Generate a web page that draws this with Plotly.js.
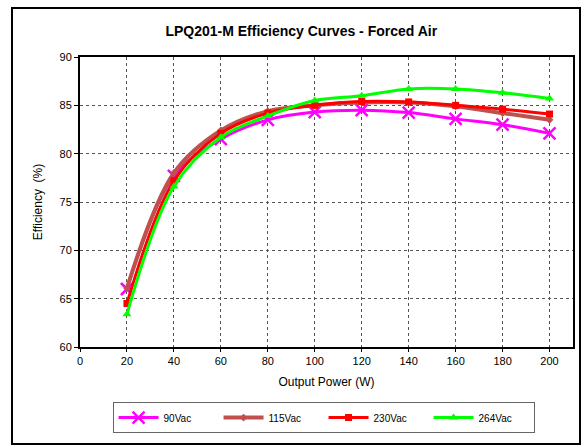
<!DOCTYPE html>
<html><head><meta charset="utf-8">
<script src="https://cdn.plot.ly/plotly-3.0.1.min.js"></script>
<style>
body{margin:0;padding:0;background:#fff;}
#wrap{position:relative;width:585px;height:445px;}
#chart{width:585px;height:445px;}
#frame{position:absolute;left:11px;top:7px;width:566px;height:434px;border:2px solid #000;pointer-events:none;}
</style></head>
<body>
<div id="wrap"><div id="chart"></div><div id="frame"></div></div>
<script>
const power = [20, 40, 60, 80, 100, 120, 140, 160, 180, 200];
const eff90 = [66.0, 77.7, 81.5, 83.5, 84.3, 84.5, 84.25, 83.6, 83.0, 82.1];
const eff115 = [66.1, 78.0, 82.4, 84.4, 85.0, 85.3, 85.3, 84.9, 84.2, 83.5];
const eff230 = [64.5, 77.2, 82.1, 84.2, 85.0, 85.4, 85.35, 85.0, 84.6, 84.1];
const eff264 = [63.4, 76.6, 81.7, 83.9, 85.5, 86.0, 86.7, 86.7, 86.3, 85.7];
const names = ['90Vac', '115Vac', '230Vac', '264Vac'];

const traces = [
  {x: power, y: eff90, name: names[0], line: {color: '#ff00ff', width: 3, shape: 'spline'},
   marker: {symbol: 'x-thin', size: 12, line: {color: '#ff00ff', width: 2.5}, color: '#ff00ff'}},
  {x: power, y: eff115, name: names[1], line: {color: '#c0504d', width: 4, shape: 'spline'},
   marker: {symbol: 'diamond', size: 6, color: '#c0504d'}},
  {x: power, y: eff230, name: names[2], line: {color: '#ff0000', width: 3, shape: 'spline'},
   marker: {symbol: 'square', size: 7, color: '#ff0000'}},
  {x: power, y: eff264, name: names[3], line: {color: '#00ff00', width: 3, shape: 'spline'},
   marker: {symbol: 'triangle-up', size: 8, color: '#00ff00'}}
].map(t => Object.assign({type: 'scatter', mode: 'lines+markers'}, t));

const font = 'Liberation Sans, Arial, sans-serif';
const layout = {
  width: 585, height: 445,
  margin: {l: 80, r: 12, t: 57, b: 98, autoexpand: false},
  paper_bgcolor: '#fff', plot_bgcolor: '#fff',
  font: {family: font, color: '#000', size: 11},
  title: {text: '<b>LPQ201-M Efficiency Curves - Forced Air</b>', font: {size: 14, family: font},
          x: 0.515, xanchor: 'center', y: 1 - 31/445, yanchor: 'middle'},
  xaxis: {range: [0, 210], tickvals: [0,20,40,60,80,100,120,140,160,180,200],
          showline: true, linecolor: '#000', linewidth: 2, mirror: true,
          showgrid: true, gridcolor: '#555', griddash: 'dot', gridwidth: 1,
          ticks: 'outside', ticklen: 3, tickcolor: '#000', zeroline: false,
          tickfont: {size: 11},
          title: {text: 'Output Power (W)', font: {size: 12}, standoff: 11}},
  yaxis: {range: [60, 90], dtick: 5, showline: true, linecolor: '#000', linewidth: 2, mirror: true,
          showgrid: true, gridcolor: '#555', griddash: 'dot', gridwidth: 1,
          ticks: 'outside', ticklen: 4, tickcolor: '#000', zeroline: false,
          tickfont: {size: 11},
          title: {text: 'Efficiency&nbsp;&nbsp;(%)', font: {size: 12}, standoff: 14}},
  showlegend: true,
  legend: {orientation: 'h', x: 0.494, xanchor: 'center', y: -0.19, yanchor: 'top',
           bordercolor: '#666', borderwidth: 1, font: {size: 10}, bgcolor: '#fff',
           itemwidth: 40, entrywidth: 50}
};
Plotly.newPlot('chart', traces, layout, {displayModeBar: false, staticPlot: true});
</script>
</body></html>
